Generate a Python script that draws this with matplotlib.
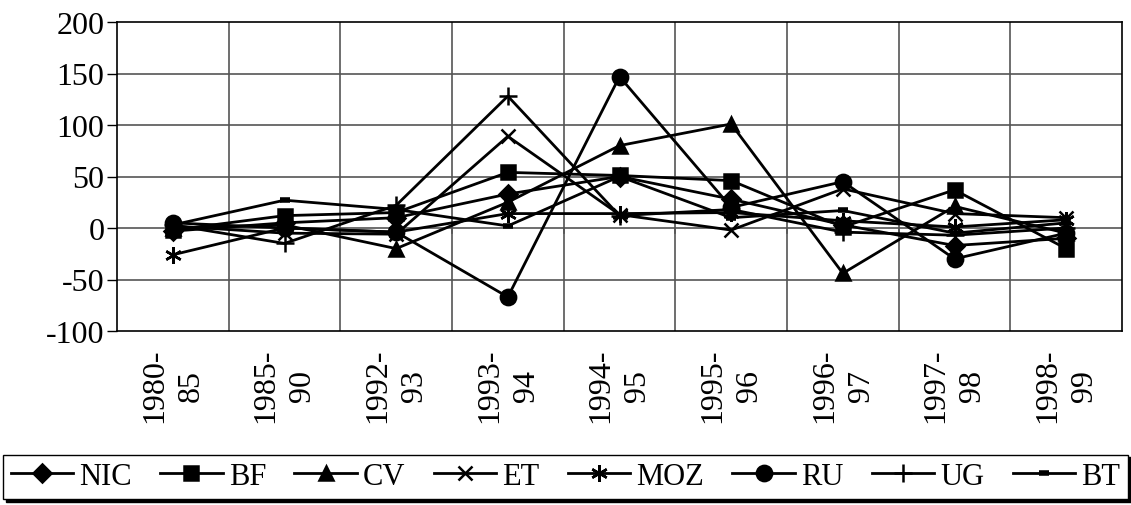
import matplotlib.pyplot as plt
import numpy as np

plt.rcParams['font.family'] = ['Liberation Serif', 'DejaVu Serif']
plt.rcParams['axes.unicode_minus'] = False

periods = ['1980-\n85', '1985-\n90', '1992-\n93', '1993-\n94', '1994-\n95',
           '1995-\n96', '1996-\n97', '1997-\n98', '1998-\n99']

nic = [-3, 5, 10, 33, 50, 28, 3, -17, -10]
bf = [-2, 12, 15, 54, 51, 46, 1, 37, -20]
cv = [0, 3, -20, 25, 80, 101, -44, 21, -5]
et = [2, -5, -6, 89, 13, -2, 38, 14, 10]
moz = [-26, 0, -4, 14, 14, 15, 7, 1, 8]
ru = [5, 0, -4, -67, 147, 20, 45, -30, -5]
ug = [3, -15, 22, 128, 12, 18, -4, -7, 0]
bt = [3, 27, 18, 2, 50, 10, 17, -5, 5]

series = [('NIC', nic, 'D', 9), ('BF', bf, 's', 10), ('CV', cv, '^', 10),
          ('ET', et, 'x', 10), ('MOZ', moz, (6, 2, 0), 12), ('RU', ru, 'o', 11),
          ('UG', ug, '+', 13), ('BT', bt, '_', 7)]

fig = plt.figure(figsize=(11.31, 5.06), dpi=100)
ax = fig.add_axes([117 / 1131, 1 - 332 / 506, (1122 - 117) / 1131, (332 - 23) / 506])

x = np.arange(len(periods))
handles = []
for name, vals, mk, ms in series:
    mew = 4 if mk == '_' else 1.8
    h, = ax.plot(x, vals, color='black', lw=2, marker=mk, ms=ms,
                 mec='black', mfc='black', mew=mew, label=name)
    handles.append(h)

ax.set_xlim(-0.5, len(periods) - 0.5)
ax.set_ylim(-100, 200)
ax.set_yticks(np.arange(-100, 201, 50))
ax.set_xticks(x)
ax.set_xticklabels(periods, rotation=90, multialignment='center',
                   fontsize=23, linespacing=1.35)
ax.tick_params(axis='x', length=0, pad=12)
ax.tick_params(axis='y', labelsize=23, length=7, direction='out', width=1, pad=2)

# grid: horizontal at every 50, vertical at category boundaries
for yv in range(-50, 200, 50):
    ax.axhline(yv, color='#555555', lw=1.2, zorder=0)
for b in np.arange(0.5, len(periods) - 0.5, 1):
    ax.axvline(b, color='#555555', lw=1.2, zorder=0)
    ax.plot([b, b], [0, -5], color='#555555', lw=1.2, zorder=0)
for sp in ax.spines.values():
    sp.set_linewidth(1.2)

leg = fig.legend(handles=handles, loc='lower center', ncol=8,
                 bbox_to_anchor=(0.5, -0.018), fontsize=22, frameon=True,
                 fancybox=False, shadow={'color': 'black', 'alpha': 1},
                 handlelength=2.05, handletextpad=0.2, columnspacing=0.92,
                 borderpad=0.25, edgecolor='black')
leg.get_frame().set_linewidth(1)

fig.savefig('out.png', dpi=100)
